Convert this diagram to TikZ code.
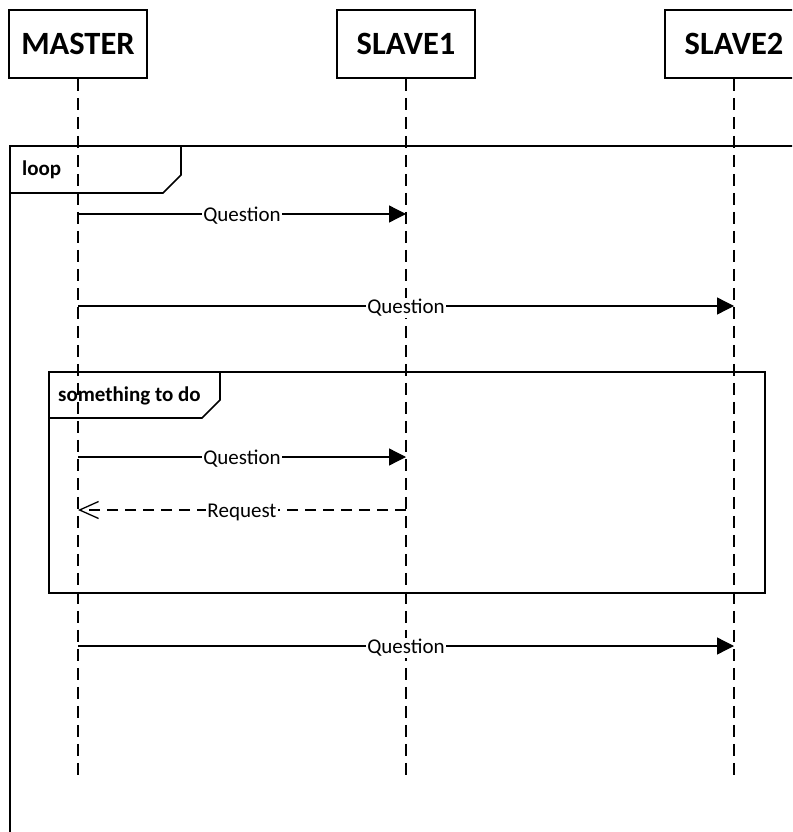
\documentclass[tikz,border=0pt]{standalone}
\usepackage{fontspec}
\setmainfont{Carlito}
\usetikzlibrary{arrows.meta}
\begin{document}
\begin{tikzpicture}[x=1pt,y=-1pt,
  head/.style={draw,line width=1.6pt,minimum width=138pt,minimum height=68pt,
    inner sep=0pt,font=\fontsize{32.5}{36}\selectfont\bfseries,fill=white},
  lifeline/.style={line width=1.3pt,dash pattern=on 12pt off 7pt},
  frameline/.style={line width=1.6pt},
  framelabel/.style={anchor=west,font=\fontsize{21}{24}\selectfont\bfseries,inner sep=0pt},
  msg/.style={line width=1.3pt,-{Triangle[length=17pt,width=17pt]}},
  reply/.style={line width=1.3pt,dash pattern=on 11pt off 7pt,
    -{Straight Barb[length=19pt,width=17pt,line width=1.3pt]}},
  msglabel/.style={midway,fill=white,inner sep=1pt,yshift=-2pt,
    font=\fontsize{21}{24}\selectfont}]
\useasboundingbox (0,0) rectangle (792,832);
\clip (0,0) rectangle (792,832);
\fill[white] (0,0) rectangle (792,832);

% lifeline heads
\node[head] (m)  at (78,44)  {MASTER};
\node[head] (s1) at (406,44) {SLAVE1};
\node[head] (s2) at (734,44) {SLAVE2};

% lifeline ends
\coordinate (mE)  at (78,781);
\coordinate (s1E) at (406,781);
\coordinate (s2E) at (734,781);
\draw[lifeline] (m.south)  -- (mE);
\draw[lifeline] (s1.south) -- (s1E);
\draw[lifeline] (s2.south) -- (s2E);

% outer loop fragment
\draw[frameline] (10,840) -- (10,146) -- (800,146);
\draw[frameline] (10,193) -- (163,193) -- (181,175) -- (181,146);
\node[framelabel] (loopL) at (22,170) {loop};

% inner fragment
\draw[frameline] (49,372) rectangle (765,593);
\draw[frameline] (49,418) -- (202,418) -- (220,400) -- (220,372);
\node[framelabel] (innerL) at (58,396) {something to do};

% message anchor points on the lifelines
\coordinate (a1) at (78,214);  \coordinate (b1) at (406,214);
\coordinate (a2) at (78,306);  \coordinate (b2) at (734,306);
\coordinate (a3) at (78,457);  \coordinate (b3) at (406,457);
\coordinate (a4) at (406,510); \coordinate (b4) at (78,510);
\coordinate (a5) at (78,646);  \coordinate (b5) at (734,646);

\draw[msg] (a1) -- node[msglabel] {Question} (b1);
\draw[msg] (a2) -- node[msglabel] {Question} (b2);
\draw[msg] (a3) -- node[msglabel] {Question} (b3);
\draw[reply] (a4) -- node[msglabel] {Request} (b4);
\draw[msg] (a5) -- node[msglabel] {Question} (b5);
\end{tikzpicture}
\end{document}
